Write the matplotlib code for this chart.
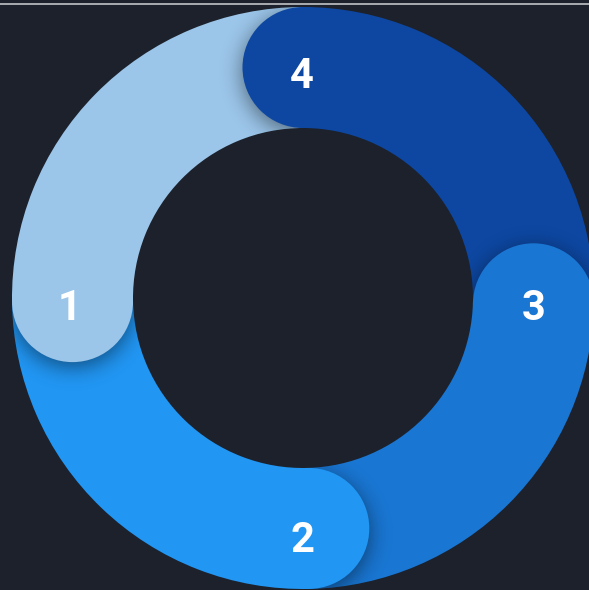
import math
import numpy as np
import matplotlib.pyplot as plt
from matplotlib.patches import Wedge, Circle

names = ['1', '2', '3', '4']
values = [25.25, 25.15, 24.2, 25.4]
colors = ['#9bc5e9', '#2196f3', '#1976d2', '#0d47a1']

bg = '#1c212b'
cx, cy = 303, 298
R, r = 291, 170
w = R - r
rm = (R + r) / 2

fig = plt.figure(figsize=(5.89, 5.90), dpi=100)
fig.patch.set_facecolor(bg)
ax = fig.add_axes([0, 0, 1, 1])
ax.set_facecolor(bg)
ax.set_xlim(0, 589)
ax.set_ylim(590, 0)
ax.set_aspect('equal')
ax.axis('off')

# y axis is inverted: data angle 180 = left, 270 = top; segments run counterclockwise on screen
tot = sum(values)
starts = []
wedges = []
a = 270.0
for i, v in enumerate(values):
    t2 = a
    t1 = a - 360.0 * v / tot
    a = t1
    starts.append(t1)
    wd = Wedge((cx, cy), R, t1, t2, width=w, facecolor=colors[i], lw=0, zorder=1)
    ax.add_patch(wd)
    wedges.append(wd)

n = len(values)
# blurred shadow of each rounded cap, shown only on the neighbouring segment
yy, xx = np.mgrid[0:590, 0:589] + 0.5
erf = np.vectorize(math.erf)
for i in range(n):
    th = np.radians(starts[i])
    px, py = cx + rm * np.cos(th), cy + rm * np.sin(th)
    d = np.hypot(xx - px, yy - (py + 5))
    al = 0.45 * 0.5 * (1 - erf((d - w / 2) / (10 * math.sqrt(2))))
    img = np.zeros((590, 589, 4))
    img[..., 3] = al
    im = ax.imshow(img, extent=(0, 589, 590, 0), zorder=2, interpolation='bilinear')
    im.set_clip_path(wedges[(i + 1) % n])
ax.set_xlim(0, 589)
ax.set_ylim(590, 0)

for i in range(n):
    th = np.radians(starts[i])
    px, py = cx + rm * np.cos(th), cy + rm * np.sin(th)
    ax.add_patch(Circle((px, py), w / 2, facecolor=colors[i], lw=0, zorder=3))

# labels
for i, nm in enumerate(names):
    th = np.radians(round(starts[i] / 90) * 90)
    lx, ly = 302 + 232 * np.cos(th), 308.5 + 232 * np.sin(th)
    ax.text(lx, ly, nm, color='white', fontsize=30, fontweight='bold', family='Roboto',
            ha='center', va='center', zorder=4)

ax.plot([0, 589], [3.5, 3.5], color='#b4b7bc', lw=1.3, zorder=5, solid_capstyle='butt')

fig.savefig('out.png', dpi=100, facecolor=bg)
